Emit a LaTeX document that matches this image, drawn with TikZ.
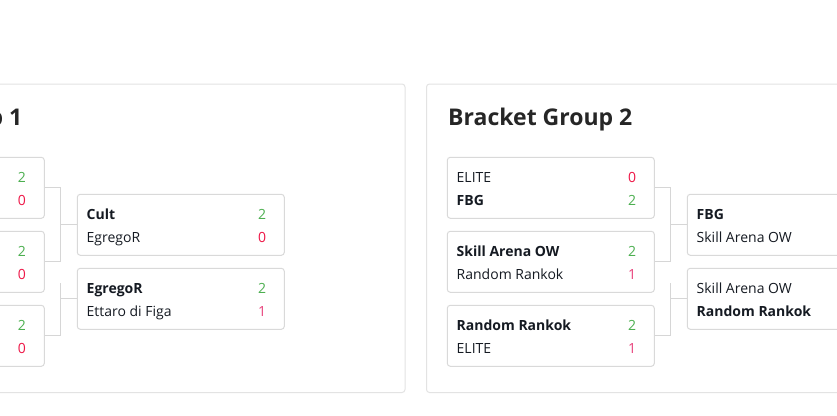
\documentclass[tikz,border=0pt]{standalone}
\usepackage{fontspec}
\setmainfont{Open Sans}
\definecolor{panelline}{HTML}{E3E3E3}
\definecolor{boxline}{HTML}{D9D9D9}
\definecolor{connline}{HTML}{D6D6D6}
\definecolor{win}{HTML}{4CAF50}
\definecolor{lossz}{HTML}{EE1848}
\definecolor{losso}{HTML}{E8407A}
\definecolor{teamtxt}{HTML}{151A22}
\definecolor{titletxt}{HTML}{262626}
\tikzset{
  panel/.style={draw=panelline, line width=1pt, rounded corners=3pt, fill=white},
  matchbox/.style={draw=boxline, line width=1pt, rounded corners=3pt, fill=white, minimum width=207pt, minimum height=61pt, inner sep=0pt},
  conn/.style={draw=connline, line width=1pt},
  team/.style={anchor=base west, inner sep=0pt, font=\fontsize{14}{16}\selectfont, text=teamtxt},
  wteam/.style={team, font=\fontsize{14}{16}\selectfont\bfseries},
  score/.style={anchor=base, inner sep=0pt, font=\fontsize{14}{16}\selectfont},
  title/.style={anchor=base west, inner sep=0pt, font=\fontsize{23}{27}\selectfont\bfseries, text=titletxt}
}
\begin{document}
\begin{tikzpicture}[x=1pt,y=-1pt]
\useasboundingbox (0,0) rectangle (837,415);
\clip (0,0) rectangle (837,415);
\fill[white] (0,0) rectangle (837,415);
% panels
\draw[panel] (-183.5,84) rectangle (405,392.5);
\draw[panel] (426.5,84) rectangle (1015,392.5);
% titles
\node[title] (t1) at (-162,125.5) {Bracket Group 1};
\node[title] (t2) at (448,125.5) {Bracket Group 2};

% ---------- Panel 1 ----------
\node[matchbox] (a1) at (-59.2,187.8) {};
\node[matchbox] (a2) at (-59.2,261.8) {};
\node[matchbox] (a3) at (-59.2,335.8) {};
\node[matchbox] (a4) at (180.8,224.8) {};
\node[matchbox] (a5) at (180.8,298.8) {};
\node[score, text=win]   (a1s1) at (22,182) {2};
\node[score, text=lossz] (a1s2) at (22,205) {0};
\node[score, text=win]   (a2s1) at (22,256) {2};
\node[score, text=lossz] (a2s2) at (22,279) {0};
\node[score, text=win]   (a3s1) at (22,330) {2};
\node[score, text=lossz] (a3s2) at (22,353) {0};
\node[wteam] (a4n1) at (86.5,219) {Cult};
\node[team]  (a4n2) at (86.5,242) {EgregoR};
\node[score, text=win]   (a4s1) at (262,219) {2};
\node[score, text=lossz] (a4s2) at (262,242) {0};
\node[wteam] (a5n1) at (86.5,293) {EgregoR};
\node[team]  (a5n2) at (86.5,316) {Ettaro di Figa};
\node[score, text=win]   (a5s1) at (262,293) {2};
\node[score, text=losso] (a5s2) at (262,316) {1};
\coordinate (ja) at (60.3,224.8);
\coordinate (jb) at (60.3,298.8);
\coordinate (jbtop) at (60.3,283.3);
\draw[conn] (a1.east) -| (ja |- a2.east) -- (a2.east);
\draw[conn] (ja) -- (a4.west);
\draw[conn] (a3.east) -| (jbtop);
\draw[conn] (jb) -- (a5.west);

% ---------- Panel 2 ----------
\node[matchbox] (b1) at (550.8,187.8) {};
\node[matchbox] (b2) at (550.8,261.8) {};
\node[matchbox] (b3) at (550.8,335.8) {};
\node[matchbox] (b4) at (790.8,224.8) {};
\node[matchbox] (b5) at (790.8,298.8) {};
\node[team]  (b1n1) at (456.5,182) {ELITE};
\node[wteam] (b1n2) at (456.5,205) {FBG};
\node[score, text=lossz] (b1s1) at (632,182) {0};
\node[score, text=win]   (b1s2) at (632,205) {2};
\node[wteam] (b2n1) at (456.5,256) {Skill Arena OW};
\node[team]  (b2n2) at (456.5,279) {Random Rankok};
\node[score, text=win]   (b2s1) at (632,256) {2};
\node[score, text=losso] (b2s2) at (632,279) {1};
\node[wteam] (b3n1) at (456.5,330) {Random Rankok};
\node[team]  (b3n2) at (456.5,353) {ELITE};
\node[score, text=win]   (b3s1) at (632,330) {2};
\node[score, text=losso] (b3s2) at (632,353) {1};
\node[wteam] (b4n1) at (696.5,219) {FBG};
\node[team]  (b4n2) at (696.5,242) {Skill Arena OW};
\node[team]  (b5n1) at (696.5,293) {Skill Arena OW};
\node[wteam] (b5n2) at (696.5,316) {Random Rankok};
\coordinate (jc) at (670.3,224.8);
\coordinate (jd) at (670.3,298.8);
\coordinate (jdtop) at (670.3,283.3);
\draw[conn] (b1.east) -| (jc |- b2.east) -- (b2.east);
\draw[conn] (jc) -- (b4.west);
\draw[conn] (b3.east) -| (jdtop);
\draw[conn] (jd) -- (b5.west);
\end{tikzpicture}
\end{document}
